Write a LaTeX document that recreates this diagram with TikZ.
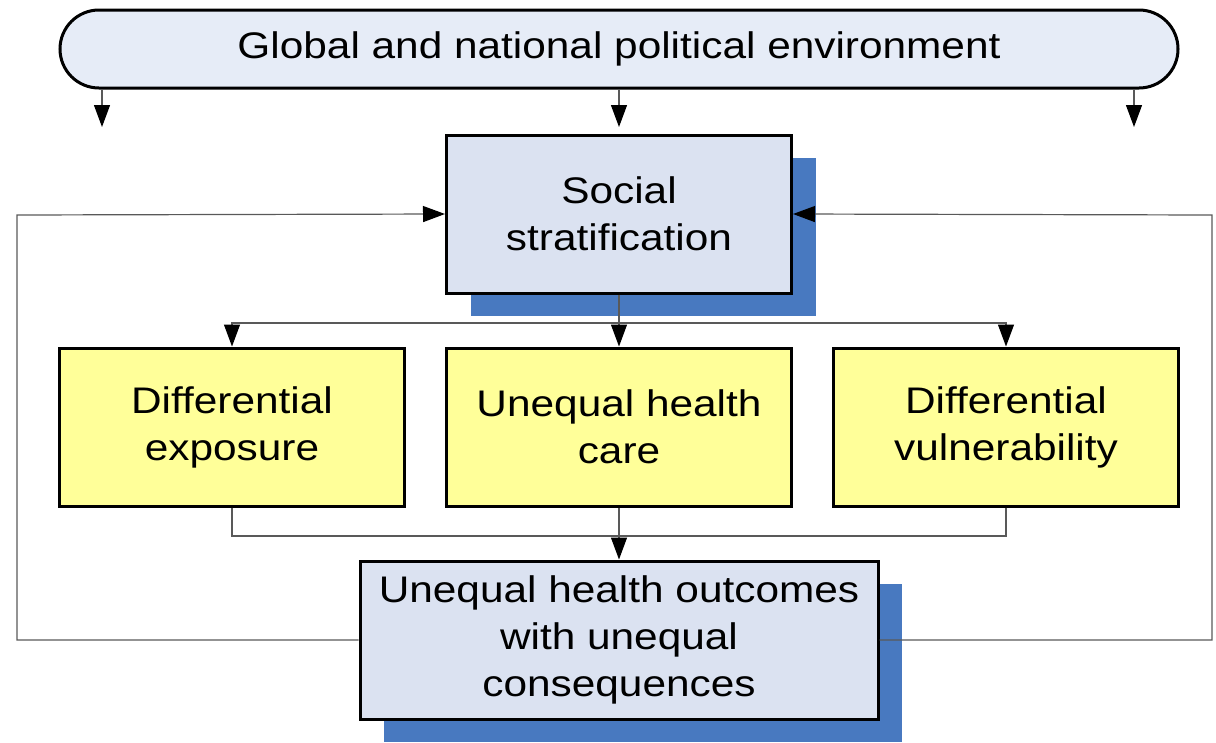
\documentclass[tikz,border=0pt]{standalone}
\usepackage{fontspec}
\setmainfont[FakeStretch=1.145]{Liberation Sans}
\usetikzlibrary{arrows.meta,shadows}
\definecolor{bannerfill}{RGB}{230,236,247}
\definecolor{boxfill}{RGB}{219,226,241}
\definecolor{shadowblue}{RGB}{72,121,192}
\definecolor{factorfill}{RGB}{255,255,153}
\begin{document}
\begin{tikzpicture}
    [x=1pt,y=-1pt,font=\fontsize{37}{47}\selectfont,
     pre/.style={<-,>={Triangle[length=22pt,width=16pt,black]},line width=1.2pt,draw=black!65},
     post/.style={->,>={Triangle[length=22pt,width=16pt,black]},line width=1.2pt,draw=black!65},
     link/.style={line width=1.2pt,draw=black!65},
     box/.style={shape=rectangle,draw=black,line width=3pt,align=center,inner sep=0pt,
       minimum width=345pt,minimum height=158pt},
     main/.style={box,fill=boxfill,
       drop shadow={shadow xshift=24pt,shadow yshift=-23pt,fill=shadowblue,opacity=1}},
     factor/.style={box,fill=factorfill}]
    \useasboundingbox (0,0) rectangle (1216,742);
    \node [shape=rectangle,draw=black,line width=3pt,fill=bannerfill,rounded corners=39pt,
      minimum width=1118pt,minimum height=78pt] (GP) at (619,49) {Global and national political environment};
    \node [main] (SS) at (619,214) {Social\\stratification};
    \node [factor] (DE) at (232,427) {Differential\\exposure};
    \node [factor] (UC) at (619,427) {Unequal health\\care};
    \node [factor] (DV) at (1006,427) {Differential\\vulnerability};
    \node [main,minimum width=518pt] (OUT) at (619,640) {Unequal health outcomes\\with unequal\\consequences};
    \coordinate (g1) at (102,127);
    \coordinate (g2) at (619,127);
    \coordinate (g3) at (1134,127);
    \coordinate (lc) at (17,215);
    \coordinate (rc) at (1212,215);
    \coordinate (split) at (619,323);
    \coordinate (join) at (619,536);
    \draw [post] (g1 |- GP.south) -- (g1);
    \draw [post] (g2 |- GP.south) -- (g2);
    \draw [post] (g3 |- GP.south) -- (g3);
    \draw [pre] (SS.west) -- (lc) |- (OUT.west);
    \draw [pre] (SS.east) -- (rc) |- (OUT.east);
    \draw [link] (SS.south) -- (split);
    \draw [post] (split) -| (DE.north);
    \draw [post] (split) -- (UC.north);
    \draw [post] (split) -| (DV.north);
    \draw [link] (DE.south) |- (join);
    \draw [link] (DV.south) |- (join);
    \draw [post] (UC.south) -- (OUT.north);
  \end{tikzpicture}
\end{document}
